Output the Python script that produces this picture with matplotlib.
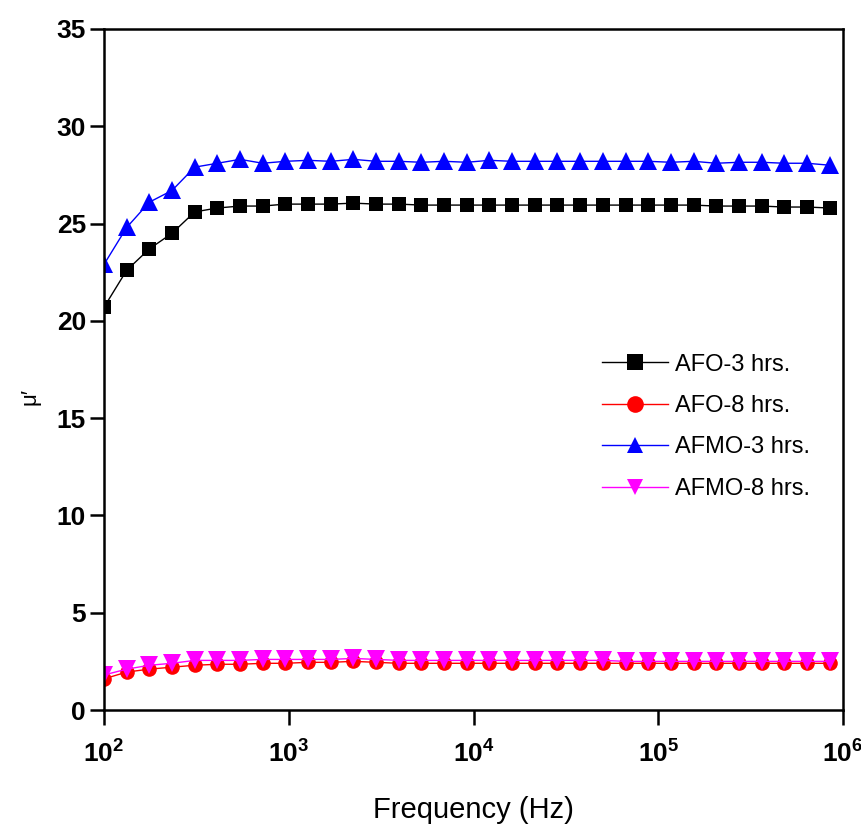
import math
import matplotlib
matplotlib.use("Agg")
import matplotlib.pyplot as plt
from matplotlib.ticker import FixedLocator, FuncFormatter, NullLocator

plt.rcParams['font.family'] = ['Liberation Sans', 'DejaVu Sans']
plt.rcParams['mathtext.fontset'] = 'custom'
plt.rcParams['mathtext.rm'] = 'Liberation Sans:bold'
plt.rcParams['mathtext.bf'] = 'Liberation Sans:bold'
plt.rcParams['mathtext.it'] = 'Liberation Sans:bold'

freq = [100, 132.7, 176.0, 233.4, 309.7, 410.8, 545.0, 722.9, 959.0, 1272,
        1688, 2239, 2970, 3940, 5227, 6934, 9198, 12202, 16187, 21473,
        28484, 37786, 50125, 66493, 88207, 117012, 155223, 205909, 273150,
        362350, 480670, 637630, 845850]

afo_3 = [20.7, 22.6, 23.7, 24.5, 25.6, 25.8, 25.9, 25.9, 26.0, 26.0,
         26.0, 26.05, 26.0, 26.0, 25.95, 25.95, 25.95, 25.95, 25.95, 25.95,
         25.95, 25.95, 25.95, 25.95, 25.95, 25.95, 25.95, 25.9, 25.9, 25.9,
         25.85, 25.85, 25.8]
afo_8 = [1.6, 1.95, 2.1, 2.2, 2.3, 2.35, 2.35, 2.4, 2.4, 2.45,
         2.45, 2.5, 2.45, 2.4, 2.4, 2.4, 2.4, 2.4, 2.4, 2.4,
         2.4, 2.4, 2.4, 2.4, 2.4, 2.4, 2.4, 2.4, 2.4, 2.4,
         2.4, 2.4, 2.4]
afmo_3 = [22.9, 24.8, 26.1, 26.7, 27.9, 28.1, 28.3, 28.1, 28.2, 28.25,
          28.2, 28.3, 28.2, 28.2, 28.15, 28.2, 28.15, 28.25, 28.2, 28.2,
          28.2, 28.2, 28.2, 28.2, 28.2, 28.15, 28.2, 28.1, 28.15, 28.15,
          28.1, 28.1, 28.0]
afmo_8 = [1.8, 2.1, 2.3, 2.4, 2.55, 2.55, 2.55, 2.6, 2.6, 2.6,
          2.6, 2.65, 2.6, 2.55, 2.55, 2.55, 2.55, 2.55, 2.55, 2.55,
          2.55, 2.55, 2.55, 2.5, 2.5, 2.5, 2.5, 2.5, 2.5, 2.5,
          2.5, 2.5, 2.5]

labels = ['AFO-3 hrs.', 'AFO-8 hrs.', 'AFMO-3 hrs.', 'AFMO-8 hrs.']
colors = ['black', '#ff0000', '#0000ff', '#ff00ff']
markers = ['s', 'o', '^', 'v']
msizes = [10, 10.5, 13, 12.5]

yticks = [0, 5, 10, 15, 20, 25, 30, 35]
xticks = [1e2, 1e3, 1e4, 1e5, 1e6]

fig = plt.figure(figsize=(8.62, 8.27), dpi=100)
ax = fig.add_axes([104/862, 1-710/827, (843-104)/862, (710-29)/827])

for ys, lab, c, m, ms in zip([afo_3, afo_8, afmo_3, afmo_8], labels, colors, markers, msizes):
    ax.plot(freq, ys, color=c, marker=m, markersize=ms, linewidth=1.0,
            markeredgewidth=0, label=lab)

ax.set_xscale('log')
ax.set_xlim(1e2, 1e6)
ax.set_ylim(0, 35)
ax.xaxis.set_major_locator(FixedLocator(xticks))
ax.xaxis.set_minor_locator(NullLocator())
ax.xaxis.set_major_formatter(FuncFormatter(lambda v, p: r'$10^{%d}$' % round(math.log10(v))))
ax.set_yticks(yticks)
ax.set_yticklabels([str(t) for t in yticks], fontweight='bold')

for s in ax.spines.values():
    s.set_linewidth(1.8)
ax.tick_params(axis='y', direction='out', width=1.8, length=10, labelsize=19, pad=3)
ax.tick_params(axis='x', direction='out', width=1.8, length=11, labelsize=19, pad=11)

ax.set_xlabel('Frequency (Hz)', fontsize=21)
ax.xaxis.set_label_coords(0.5, -0.126)
ax.set_ylabel('μ′', fontsize=16)
ax.yaxis.set_label_coords(-0.086, 0.46)

leg = ax.legend(loc='upper left', bbox_to_anchor=(0.661, 0.537), frameon=False,
                fontsize=17, handlelength=2.8, handletextpad=0.3,
                labelspacing=0.82, borderaxespad=0)
for h in leg.legend_handles:
    h.set_markersize(12)

fig.savefig('out.png', dpi=100)
